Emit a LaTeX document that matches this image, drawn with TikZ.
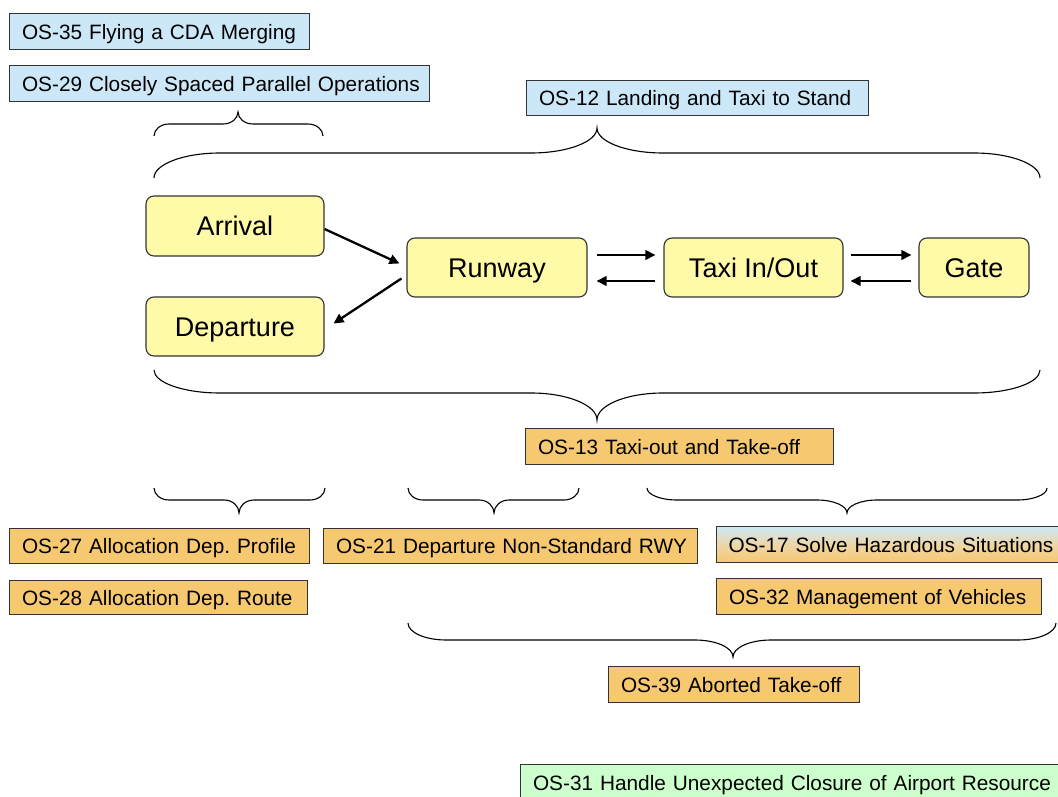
\documentclass[tikz,border=0pt]{standalone}
\usepackage{fontspec}
\setmainfont{Liberation Sans}
\frenchspacing
\usetikzlibrary{arrows.meta,calc}
\definecolor{bluefill}{HTML}{CCE8F8}
\definecolor{orangefill}{HTML}{F6C870}
\definecolor{midfill}{HTML}{EED6A8}
\definecolor{yellowfill}{HTML}{FFFAA8}
\definecolor{greenfill}{HTML}{CCFFCC}
\definecolor{bordercol}{HTML}{333333}
\newcommand{\drawbrace}[7]{%
\draw[bracestyle] (#1,#4) .. controls (#1,{#4+0.552*(#5-#4)}) and ({#1+0.448*#7},#5) .. ({#1+#7},#5)
 -- ({#3-#7},#5) .. controls ({#3-0.448*#7},#5) and (#3,{#6+0.552*(#5-#6)}) .. (#3,#6)
 .. controls (#3,{#6+0.552*(#5-#6)}) and ({#3+0.448*#7},#5) .. ({#3+#7},#5)
 -- ({#2-#7},#5) .. controls ({#2-0.448*#7},#5) and (#2,{#4+0.552*(#5-#4)}) .. (#2,#4);}
\tikzset{
  lbl/.style={draw=bordercol, line width=1.1pt, inner ysep=0pt, inner xsep=12.5pt,
    anchor=north west, align=left, font=\fontsize{20.8}{25}\selectfont\frenchspacing,
    text height=15pt, text depth=0pt},
  bluebox/.style={lbl, fill=bluefill},
  orangebox/.style={lbl, fill=orangefill},
  greenbox/.style={lbl, fill=greenfill},
  phase/.style={draw=bordercol, line width=1.1pt, fill=yellowfill, rounded corners=8pt, inner sep=0pt,
    font=\fontsize{27}{32}\selectfont, text height=19.4pt, text depth=0pt},
  arr/.style={line width=2.3pt, -{Triangle[length=10pt,width=9.5pt]}},
  bracestyle/.style={line width=1.1pt, black},
}
\begin{document}
\begin{tikzpicture}[x=1pt,y=-1pt]
\useasboundingbox (0,0) rectangle (1058,797);
\clip (0,0) rectangle (1058,797);
\fill[white] (0,0) rectangle (1058,797);

% top boxes
\node[bluebox, text width=275pt, minimum height=36pt] (os35) at (9,13) {\mbox{OS-35 Flying a CDA Merging}};
\node[bluebox, text width=395pt, minimum height=36pt] (os29) at (9,65) {\mbox{OS-29 Closely Spaced Parallel Operations}};
\node[bluebox, text width=317pt, minimum height=35pt] (os12) at (526,80) {\mbox{OS-12 Landing and Taxi to Stand}};

% braces top
\drawbrace{154}{323}{238}{136}{124}{112}{15}
\drawbrace{154}{1040}{597}{178}{153}{128}{66}

% phases
\node[phase, minimum width=178pt, minimum height=60pt] (arrival) at (235,226) {Arrival};
\node[phase, minimum width=178pt, minimum height=59pt] (departure) at (235,326.5) {Departure};
\node[phase, minimum width=180pt, minimum height=59pt] (runway) at (497,267.5) {Runway};
\node[phase, minimum width=179pt, minimum height=59pt] (taxi) at (753.5,267.5) {Taxi In/Out};
\node[phase, minimum width=110pt, minimum height=59pt] (gate) at (974,267.5) {Gate};

% arrows
\draw[arr] ([yshift=-3pt]arrival.east) -- ([xshift=-7pt,yshift=4pt]runway.west);
\draw[arr] ([xshift=-5pt,yshift=-11pt]runway.west) -- ([xshift=9pt,yshift=3pt]departure.east);
\draw[arr] ([xshift=9pt,yshift=12.5pt]runway.east) -- ([xshift=-8pt,yshift=12.5pt]taxi.west);
\draw[arr] ([xshift=-8pt,yshift=-13.5pt]taxi.west) -- ([xshift=9pt,yshift=-13.5pt]runway.east);
\draw[arr] ([xshift=7pt,yshift=12.5pt]taxi.east) -- ([xshift=-7pt,yshift=12.5pt]gate.west);
\draw[arr] ([xshift=-7pt,yshift=-13.5pt]gate.west) -- ([xshift=7pt,yshift=-13.5pt]taxi.east);

% bottom large brace
\drawbrace{154}{1040}{597}{370}{393}{420}{66}
\node[orangebox, text width=283pt, minimum height=36pt] (os13) at (525,428) {\mbox{OS-13 Taxi-out and Take-off}};

% small bottom braces
\drawbrace{154}{325}{239}{488}{500}{513}{15}
\drawbrace{408}{579}{494}{488}{500}{513}{15}
\drawbrace{647}{1047}{847}{488}{500}{513}{30}

\node[orangebox, text width=275pt, minimum height=35pt] (os27) at (9,528) {\mbox{OS-27 Allocation Dep. Profile}};
\node[orangebox, text width=349pt, minimum height=35pt] (os21) at (323,528) {\mbox{OS-21 Departure Non-Standard RWY}};
\node[lbl, top color=bluefill, bottom color=orangefill, middle color=midfill, minimum height=36pt,
      inner xsep=12pt, text width=356pt] (os17) at (716,526) {\mbox{OS-17 Solve Hazardous Situations}};
\node[orangebox, text width=273pt, minimum height=34pt] (os28) at (9,580) {\mbox{OS-28 Allocation Dep. Route}};
\node[orangebox, text width=300pt, minimum height=36pt] (os32) at (716,578) {\mbox{OS-32 Management of Vehicles}};

\drawbrace{408}{1056}{733}{623}{640}{657}{38}
\node[orangebox, text width=226pt, minimum height=36pt] (os39) at (608,666) {\mbox{OS-39 Aborted Take-off}};

\node[greenbox, minimum height=36pt, text width=535pt] (os31) at (520,764) {\mbox{OS-31 Handle Unexpected Closure of Airport Resource}};
\end{tikzpicture}
\end{document}
